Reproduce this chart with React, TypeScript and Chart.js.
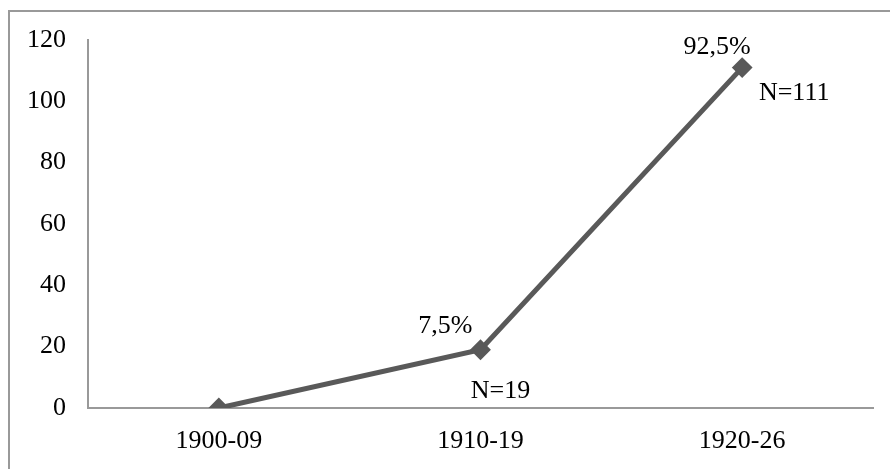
import React, { useEffect, useRef } from "react";
import { Chart, registerables } from "chart.js";

Chart.register(...registerables);

const categories = ["1900-09", "1910-19", "1920-26"];
const values = [0, 19, 111];
const percentLabels = ["", "7,5%", "92,5%"];
const countLabels = ["", "N=19", "N=111"];
const yTicks = [0, 20, 40, 60, 80, 100, 120];

const FONT = "'Liberation Serif', 'Times New Roman', serif";
const FONT_SIZE = 26;
// label offsets (style only): [dx, dy, align]
const pctOffsets: [number, number, CanvasTextAlign][] = [
  [0, 0, "center"],
  [-8, -24, "right"],
  [-25, -20, "center"],
];
const nOffsets: [number, number, CanvasTextAlign][] = [
  [0, 0, "center"],
  [20, 41, "center"],
  [52, 26, "center"],
];

const framePlugin = {
  id: "frame",
  beforeDraw(chart: any) {
    const ctx = chart.ctx;
    ctx.save();
    ctx.fillStyle = "#ffffff";
    ctx.fillRect(0, 0, chart.width, chart.height);
    ctx.strokeStyle = "#999999";
    ctx.lineWidth = 2;
    ctx.beginPath();
    ctx.moveTo(9, chart.height + 5);
    ctx.lineTo(9, 11);
    ctx.lineTo(chart.width + 5, 11);
    ctx.stroke();
    ctx.restore();
  },
};

const labelPlugin = {
  id: "pointLabels",
  afterDatasetsDraw(chart: any) {
    const ctx = chart.ctx;
    const meta = chart.getDatasetMeta(0);
    ctx.save();
    ctx.font = `${FONT_SIZE}px ${FONT}`;
    ctx.fillStyle = "#000000";
    ctx.textBaseline = "middle";
    meta.data.forEach((pt: any, i: number) => {
      if (percentLabels[i]) {
        const [dx, dy, al] = pctOffsets[i];
        ctx.textAlign = al;
        ctx.fillText(percentLabels[i], pt.x + dx, pt.y + dy);
      }
      if (countLabels[i]) {
        const [dx, dy, al] = nOffsets[i];
        ctx.textAlign = al;
        ctx.fillText(countLabels[i], pt.x + dx, pt.y + dy);
      }
    });
    ctx.restore();
  },
};

export default function App() {
  const ref = useRef<HTMLCanvasElement | null>(null);
  useEffect(() => {
    if (!ref.current) return;
    const chart = new Chart(ref.current, {
      type: "line",
      data: {
        labels: categories,
        datasets: [
          {
            data: values,
            borderColor: "#595959",
            backgroundColor: "#595959",
            borderWidth: 5,
            pointStyle: "rectRot",
            pointRadius: 9,
            pointBorderWidth: 2,
            pointBackgroundColor: "#595959",
            pointBorderColor: "#595959",
            tension: 0,
          },
        ],
      },
      options: {
        responsive: false,
        animation: false,
        devicePixelRatio: 1,
        layout: { padding: { left: 0, top: 40, right: 17, bottom: 0 } },
        plugins: {
          legend: { display: false },
          tooltip: { enabled: false },
          title: { display: false },
        },
        scales: {
          x: {
            type: "category",
            offset: true,
            grid: { display: false, drawTicks: false },
            border: { display: true, color: "#999999", width: 2 },
            ticks: {
              color: "#000000",
              font: { family: FONT, size: FONT_SIZE },
              padding: 18,
              maxRotation: 0,
            },
            afterFit(scale: any) {
              scale.height = 61;
            },
          },
          y: {
            min: 0,
            max: 120,
            afterBuildTicks(scale: any) {
              scale.ticks = yTicks.map((v) => ({ value: v }));
            },
            grid: { display: false, drawTicks: false },
            border: { display: true, color: "#999999", width: 2 },
            ticks: {
              color: "#000000",
              font: { family: FONT, size: FONT_SIZE },
              padding: 22,
            },
            afterFit(scale: any) {
              scale.width = 88;
            },
          },
        },
      },
      plugins: [framePlugin, labelPlugin],
    });
    return () => chart.destroy();
  }, []);
  return (
    <div style={{ position: "fixed", left: 0, top: 0, width: 890, height: 469 }}>
      <canvas ref={ref} width={890} height={469} style={{ width: 890, height: 469 }} />
    </div>
  );
}
